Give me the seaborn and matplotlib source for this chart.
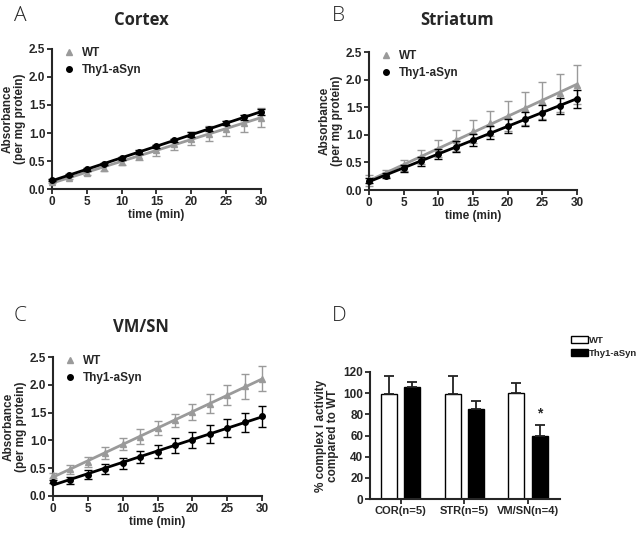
import numpy as np
import pandas as pd
import matplotlib
matplotlib.use("Agg")
import matplotlib.pyplot as plt
from matplotlib.lines import Line2D
from matplotlib.patches import Patch
import seaborn as sns

# ---------------- data ----------------
time = [0, 2.5, 5, 7.5, 10, 12.5, 15, 17.5, 20, 22.5, 25, 27.5, 30]

cortex_wt = [0.13, 0.20, 0.29, 0.38, 0.48, 0.59, 0.69, 0.80, 0.90, 0.99, 1.08, 1.17, 1.27]
cortex_wt_err = [0.03, 0.03, 0.04, 0.05, 0.06, 0.08, 0.10, 0.10, 0.11, 0.14, 0.13, 0.16, 0.17]
cortex_tg = [0.16, 0.25, 0.35, 0.45, 0.55, 0.66, 0.76, 0.87, 0.97, 1.07, 1.18, 1.28, 1.38]
cortex_tg_err = [0.02, 0.02, 0.02, 0.02, 0.03, 0.03, 0.03, 0.03, 0.04, 0.04, 0.04, 0.05, 0.05]

striatum_wt = [0.18, 0.30, 0.45, 0.60, 0.75, 0.90, 1.06, 1.21, 1.34, 1.48, 1.62, 1.76, 1.91]
striatum_wt_err = [0.10, 0.06, 0.10, 0.13, 0.16, 0.19, 0.21, 0.23, 0.28, 0.30, 0.33, 0.35, 0.36]
striatum_tg = [0.17, 0.26, 0.39, 0.52, 0.65, 0.78, 0.91, 1.04, 1.16, 1.29, 1.40, 1.52, 1.65]
striatum_tg_err = [0.04, 0.05, 0.06, 0.08, 0.09, 0.10, 0.11, 0.12, 0.13, 0.13, 0.14, 0.14, 0.16]

vmsn_wt = [0.37, 0.48, 0.62, 0.77, 0.93, 1.07, 1.22, 1.36, 1.51, 1.66, 1.81, 1.97, 2.11]
vmsn_wt_err = [0.05, 0.08, 0.09, 0.11, 0.11, 0.13, 0.12, 0.12, 0.14, 0.17, 0.18, 0.22, 0.23]
vmsn_tg = [0.26, 0.28, 0.38, 0.49, 0.59, 0.70, 0.80, 0.91, 1.01, 1.12, 1.23, 1.33, 1.43]
vmsn_tg_err = [0.03, 0.07, 0.08, 0.09, 0.10, 0.11, 0.11, 0.13, 0.14, 0.16, 0.16, 0.17, 0.18]

regions = ["COR(n=5)", "STR(n=5)", "VM/SN(n=4)"]
genotypes = ["WT", "Thy1-aSyn"]
activity_wt = [99, 99, 100]
activity_wt_err = [17, 17, 10]
activity_tg = [106, 85, 60]
activity_tg_err = [5, 8, 10]

titles = ["Cortex", "Striatum", "VM/SN"]
letters = ["A", "B", "C", "D"]

# ---------------- style ----------------
sns.set_theme(style="ticks")
plt.rcParams["font.family"] = ["Liberation Sans", "DejaVu Sans"]
plt.rcParams["font.weight"] = "bold"
plt.rcParams["axes.labelweight"] = "bold"
plt.rcParams["axes.linewidth"] = 1.5
plt.rcParams["xtick.major.width"] = 1.3
plt.rcParams["ytick.major.width"] = 1.3
plt.rcParams["xtick.major.size"] = 3.5
plt.rcParams["ytick.major.size"] = 3.5
plt.rcParams["xtick.major.pad"] = 1.5
plt.rcParams["ytick.major.pad"] = 1.2

GREY = "#9a9a9a"
BLACK = "#000000"

fig = plt.figure(figsize=(6.41, 5.33), dpi=100)

ax_pos = [
    [52 / 641, 1 - 189 / 533, 209 / 641, 140 / 533],
    [369 / 641, 1 - 190 / 533, 208 / 641, 138 / 533],
    [53 / 641, 1 - 496 / 533, 209 / 641, 139 / 533],
    [370 / 641, 1 - 499 / 533, 190 / 641, 127 / 533],
]
letter_pos = [(14, 16), (332, 16), (14, 316), (332, 316)]
title_pos = [(141, 20), (457, 20), (141, 327)]

series = [
    (cortex_wt, cortex_wt_err, cortex_tg, cortex_tg_err),
    (striatum_wt, striatum_wt_err, striatum_tg, striatum_tg_err),
    (vmsn_wt, vmsn_wt_err, vmsn_tg, vmsn_tg_err),
]

tick_fs = 8.5
lab_fs = 8.5

for i, (wt, wte, tg, tge) in enumerate(series):
    ax = fig.add_axes(ax_pos[i])
    df = pd.DataFrame({"time": time, "wt": wt, "tg": tg})
    # grey WT
    ax.errorbar(time, wt, yerr=wte, fmt="none", ecolor=GREY, elinewidth=1.0,
                capsize=2.8, capthick=1.0, zorder=2, clip_on=False)
    sns.regplot(data=df, x="time", y="wt", scatter=False, ci=None, ax=ax,
                line_kws=dict(color=GREY, lw=2.0, zorder=3), truncate=True)
    ax.plot(time, wt, linestyle="none", marker="^", ms=4.5, color=GREY,
            zorder=4, clip_on=False)
    # black Thy1
    ax.errorbar(time, tg, yerr=tge, fmt="none", ecolor=BLACK, elinewidth=1.0,
                capsize=2.8, capthick=1.0, zorder=5, clip_on=False)
    sns.regplot(data=df, x="time", y="tg", scatter=False, ci=None, ax=ax,
                line_kws=dict(color=BLACK, lw=2.0, zorder=6), truncate=True)
    ax.plot(time, tg, linestyle="none", marker="o", ms=4.0, color=BLACK,
            zorder=7, clip_on=False)

    ax.set_xlim(0, 30)
    ax.set_ylim(0, 2.5)
    ax.set_xticks([0, 5, 10, 15, 20, 25, 30])
    ax.set_yticks([0.0, 0.5, 1.0, 1.5, 2.0, 2.5])
    ax.set_yticklabels(["0.0", "0.5", "1.0", "1.5", "2.0", "2.5"])
    sns.despine(ax=ax)
    ax.tick_params(labelsize=tick_fs)
    for lab in ax.get_xticklabels() + ax.get_yticklabels():
        lab.set_fontweight("bold")
    ax.set_xlabel("time (min)", fontsize=lab_fs, fontweight="bold", labelpad=1)
    ax.set_ylabel("Absorbance\n(per mg protein)", fontsize=lab_fs,
                  fontweight="bold", labelpad=2, linespacing=1.0)

    handles = [
        Line2D([], [], linestyle="none", marker="^", ms=4.5, color=GREY, label="WT"),
        Line2D([], [], linestyle="none", marker="o", ms=4.0, color=BLACK, label="Thy1-aSyn"),
    ]
    ax.legend(handles=handles, loc="upper left", bbox_to_anchor=(0.03, 1.05),
              frameon=False, handlelength=1.0, handletextpad=0.6,
              labelspacing=0.45, borderaxespad=0.0,
              prop=dict(weight="bold", size=8.5))

    fig.text(title_pos[i][0] / 641, 1 - title_pos[i][1] / 533, titles[i],
             ha="center", va="center", fontsize=12, fontweight="bold",
             family=["Open Sans", "DejaVu Sans"])

# ---------------- panel D ----------------
axd = fig.add_axes(ax_pos[3])
bar_df = pd.DataFrame({
    "region": regions * 2,
    "genotype": [genotypes[0]] * 3 + [genotypes[1]] * 3,
    "activity": activity_wt + activity_tg,
})
sns.barplot(data=bar_df, x="region", y="activity", hue="genotype",
            order=regions, hue_order=genotypes,
            palette={"WT": "white", "Thy1-aSyn": "black"},
            edgecolor="black", linewidth=1.0, width=0.74, gap=0.32,
            errorbar=None, legend=False, ax=axd)
bars = list(axd.patches)
errs = activity_wt_err + activity_tg_err
vals = activity_wt + activity_tg
for bar, v, e in zip(bars, vals, errs):
    xc = bar.get_x() + bar.get_width() / 2
    axd.errorbar([xc], [v], yerr=[[0], [e]], fmt="none", ecolor="#222222",
                 elinewidth=1.3, capsize=3.5, capthick=1.3, zorder=1)
b = bars[5]
axd.text(b.get_x() + b.get_width() / 2, vals[5] + errs[5] + 4, "*",
         ha="center", va="bottom", fontsize=10, fontweight="bold")

axd.set_xlim(-0.48, 2.5)
axd.set_ylim(0, 120)
axd.set_yticks([0, 20, 40, 60, 80, 100, 120])
sns.despine(ax=axd)
axd.tick_params(labelsize=tick_fs)
axd.tick_params(axis="x", labelsize=8)
for lab in axd.get_xticklabels() + axd.get_yticklabels():
    lab.set_fontweight("bold")
axd.set_xlabel("")
axd.set_ylabel("% complex I activity\ncompared to WT", fontsize=lab_fs,
               fontweight="bold", labelpad=3, linespacing=1.0)

leg_handles = [
    Patch(facecolor="white", edgecolor="black", linewidth=1.0, label="WT"),
    Patch(facecolor="black", edgecolor="black", linewidth=1.0, label="Thy1-aSyn"),
]
fig.legend(handles=leg_handles, loc="upper left",
           bbox_to_anchor=(571 / 641, 1 - 336 / 533), frameon=False,
           handlelength=1.8, handleheight=0.8, handletextpad=0.1,
           labelspacing=0.4, borderaxespad=0.0, borderpad=0.0,
           prop=dict(weight="bold", size=6.8))

# panel letters
for (lx, ly), letter in zip(letter_pos, letters):
    fig.text(lx / 641, 1 - ly / 533, letter, ha="left", va="center",
             fontsize=15, fontweight="light", family=["Open Sans", "DejaVu Sans"])

fig.savefig("out.png", dpi=100)
